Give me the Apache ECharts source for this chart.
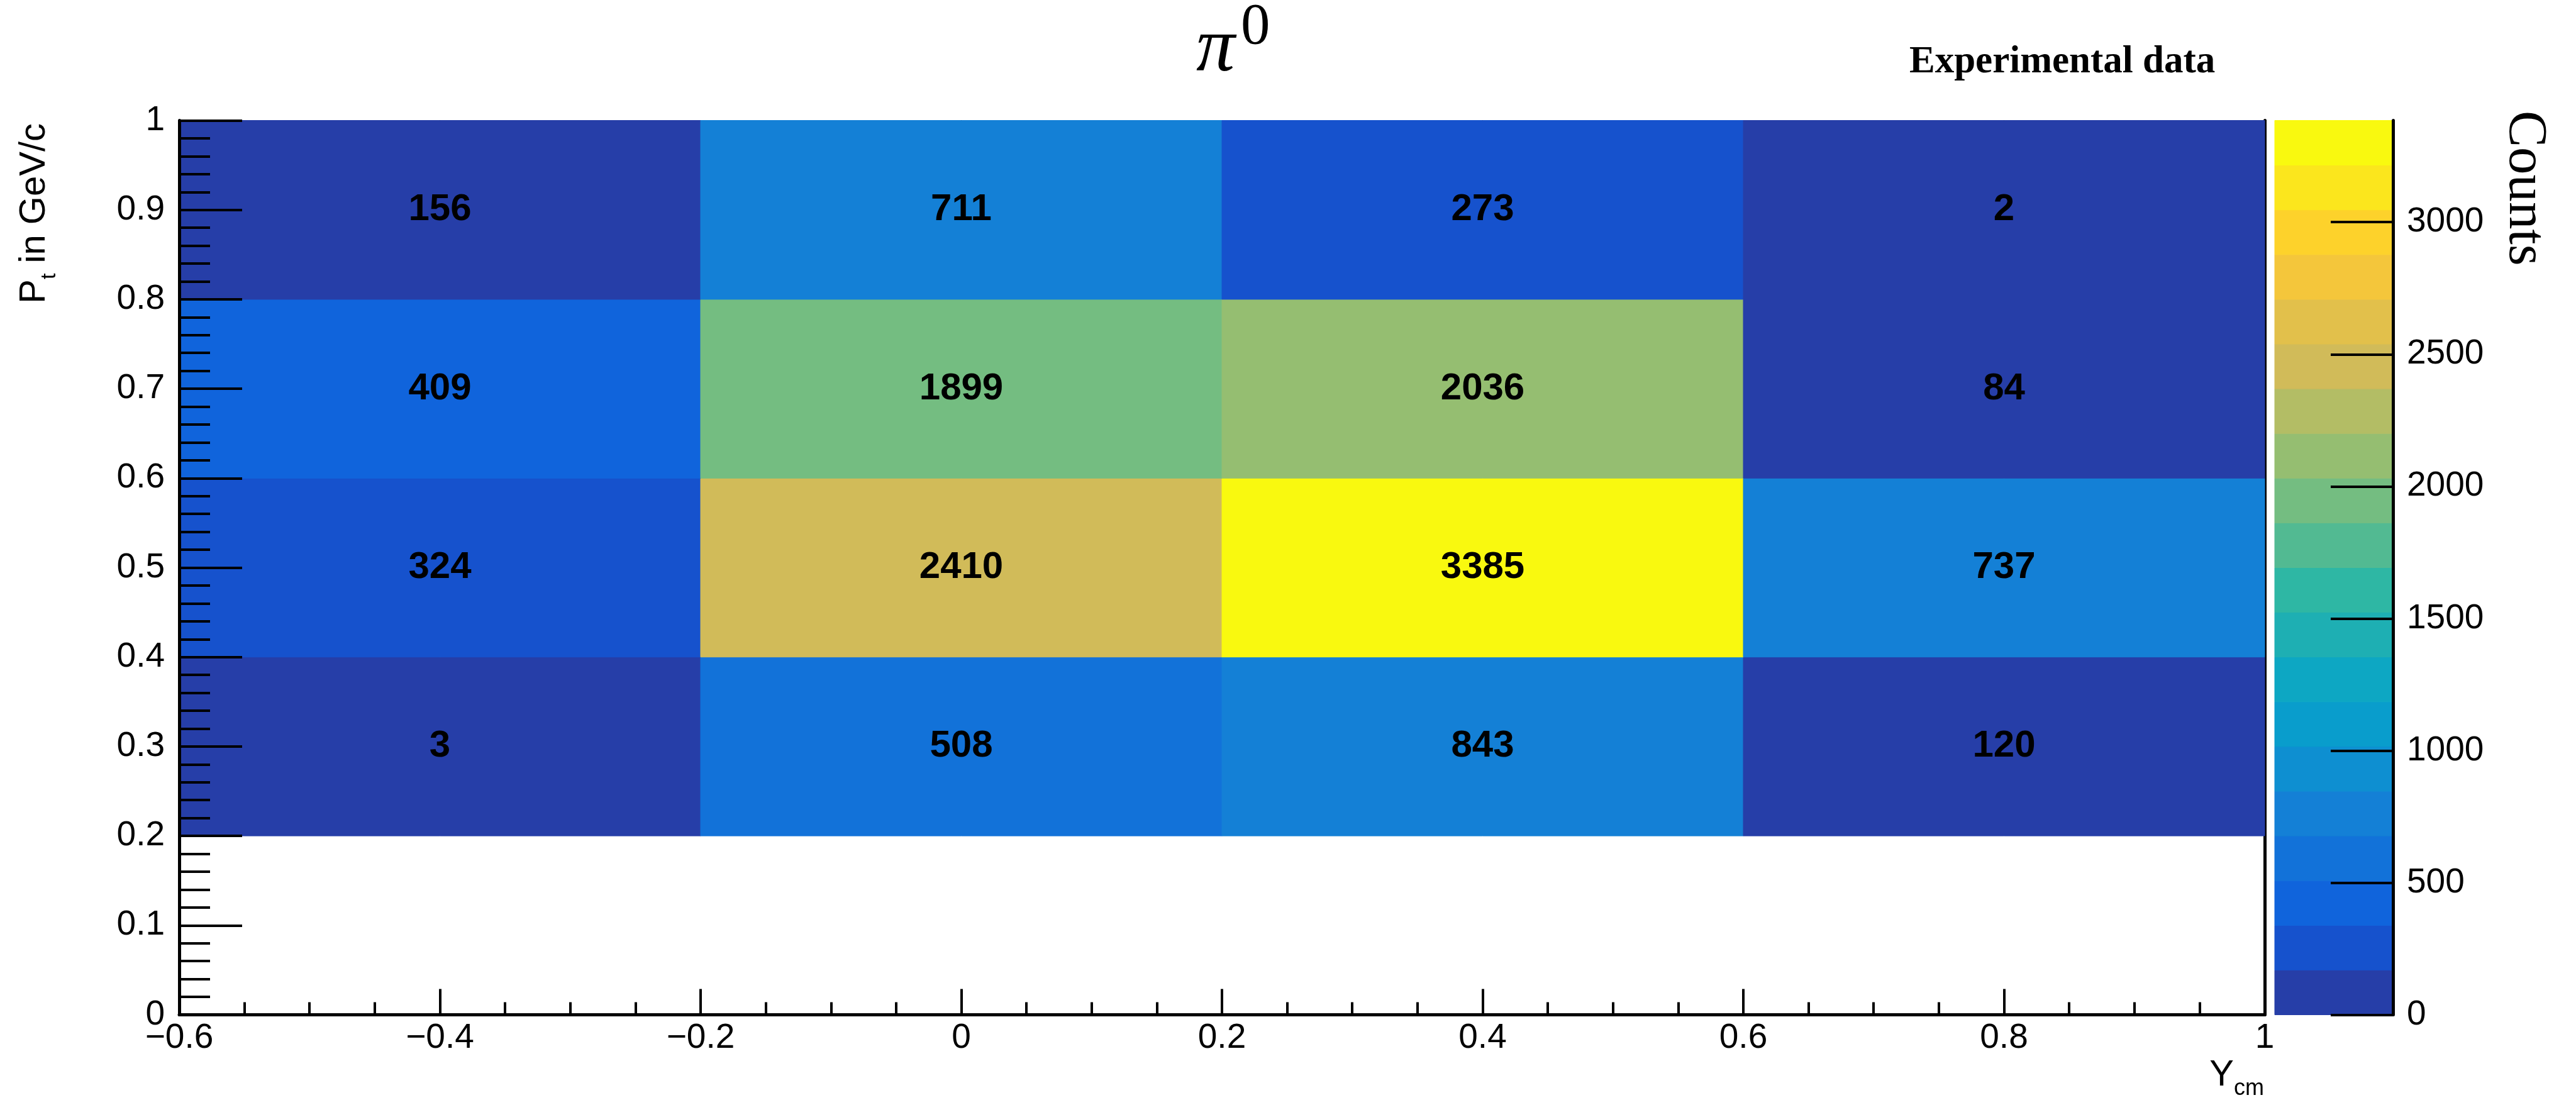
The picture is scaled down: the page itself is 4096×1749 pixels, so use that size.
<!DOCTYPE html>
<html>
<head>
<meta charset="utf-8">
<script src="https://cdn.jsdelivr.net/npm/echarts@6/dist/echarts.min.js"></script>
<style>
html,body{margin:0;padding:0;background:#fff;}
#chart{width:4096px;height:1749px;}
</style>
</head>
<body>
<div id="chart"></div>
<script>
// ---- data ----
const xEdges = [-0.6, -0.2, 0.2, 0.6, 1.0];      // Y_cm bin edges
const yEdges = [0.2, 0.4, 0.6, 0.8, 1.0];        // Pt bin edges
// counts[row][col], row 0 = lowest Pt bin (0.2-0.4)
const countsRow0 = [3, 508, 843, 120];
const countsRow1 = [324, 2410, 3385, 737];
const countsRow2 = [409, 1899, 2036, 84];
const countsRow3 = [156, 711, 273, 2];
const counts = [countsRow0, countsRow1, countsRow2, countsRow3];
const zMax = 3385;
const zTicks = [0, 500, 1000, 1500, 2000, 2500, 3000];
const nLevels = 20;
// ROOT kBird palette, 20 contour levels
const levelColors = ['#263EA8','#1652CD','#1064DC','#1272D9','#1480D6','#0E8FD1','#099DCC','#0DA7C3','#1EAFB3','#2EB7A4',
                     '#52BA92','#74BD81','#95BE71','#B3BD65','#D1BB59','#E2C04B','#F4C63B','#FDD22B','#FBE61D','#F9F90F'];

function colorFor(v) {
  let k = Math.floor(v * nLevels / zMax);
  if (k > nLevels - 1) k = nLevels - 1;
  if (k < 0) k = 0;
  return levelColors[k];
}

const cellData = [];
for (let r = 0; r < counts.length; r++) {
  for (let c = 0; c < counts[r].length; c++) {
    cellData.push([xEdges[c], xEdges[c + 1], yEdges[r], yEdges[r + 1], counts[r][c]]);
  }
}
const bandData = [];
for (let k = 0; k < nLevels; k++) {
  bandData.push([k * zMax / nLevels, (k + 1) * zMax / nLevels, k]);
}

const SANS = 'Liberation Sans';
const SERIF = 'Liberation Serif';

function fmtNum(v) {
  const r = Math.round(v * 10) / 10;
  return String(r).replace('-', '\u2212');
}

const chart = echarts.init(document.getElementById('chart'), null, {renderer: 'canvas'});

const option = {
  backgroundColor: '#ffffff',
  animation: false,
  grid: [
    {left: 285, right: 495, top: 191.5, bottom: 135.5, outerBoundsMode: 'none', containLabel: false},
    {left: 3617, right: 291, top: 191.5, bottom: 135.5, outerBoundsMode: 'none', containLabel: false}
  ],
  xAxis: [
    {
      gridIndex: 0, type: 'value', min: -0.6, max: 1, interval: 0.2, position: 'bottom', z: 10,
      axisLine: {show: true, onZero: false, lineStyle: {color: '#000', width: 5}},
      axisTick: {show: true, inside: true, length: 41, lineStyle: {color: '#000', width: 4}},
      minorTick: {show: true, splitNumber: 4, length: 20, lineStyle: {color: '#000', width: 4}},
      splitLine: {show: false}, minorSplitLine: {show: false},
      axisLabel: {show: true, margin: 10, color: '#000', fontSize: 55, fontFamily: SANS,
                  showMinLabel: true, showMaxLabel: true, formatter: fmtNum}
    },
    {
      gridIndex: 0, type: 'value', min: -0.6, max: 1, position: 'top', z: 0,
      axisLine: {show: true, onZero: false, lineStyle: {color: '#000', width: 2}},
      axisTick: {show: false}, axisLabel: {show: false}, splitLine: {show: false}
    },
    {
      gridIndex: 1, type: 'value', min: 0, max: 1, show: false,
      axisLine: {show: false}, axisTick: {show: false}, axisLabel: {show: false}, splitLine: {show: false}
    }
  ],
  yAxis: [
    {
      gridIndex: 0, type: 'value', min: 0, max: 1, interval: 0.1, position: 'left', z: 10,
      axisLine: {show: true, onZero: false, lineStyle: {color: '#000', width: 5}},
      axisTick: {show: true, inside: true, length: 100, lineStyle: {color: '#000', width: 4}},
      minorTick: {show: true, splitNumber: 5, length: 49, lineStyle: {color: '#000', width: 4}},
      splitLine: {show: false}, minorSplitLine: {show: false},
      axisLabel: {show: true, margin: 23, color: '#000', fontSize: 55, fontFamily: SANS,
                  showMinLabel: true, showMaxLabel: true, formatter: fmtNum}
    },
    {
      gridIndex: 0, type: 'value', min: 0, max: 1, position: 'right', z: 0,
      axisLine: {show: true, onZero: false, lineStyle: {color: '#000', width: 5}},
      axisTick: {show: false}, axisLabel: {show: false}, splitLine: {show: false}
    },
    {
      gridIndex: 1, type: 'value', min: 0, max: zMax, position: 'right', z: 10,
      axisLine: {show: true, onZero: false, lineStyle: {color: '#000', width: 5}},
      axisTick: {show: true, inside: true, length: 99, customValues: zTicks, lineStyle: {color: '#000', width: 4}},
      splitLine: {show: false},
      axisLabel: {show: true, margin: 22, color: '#000', fontSize: 55, fontFamily: SANS,
                  customValues: zTicks, formatter: v => String(v)}
    }
  ],
  series: [
    {
      type: 'custom',
      xAxisIndex: 0, yAxisIndex: 0,
      z: 2,
      encode: {x: [0, 1], y: [2, 3]},
      data: cellData,
      renderItem: function (params, api) {
        const p0 = api.coord([api.value(0), api.value(3)]);
        const p1 = api.coord([api.value(1), api.value(2)]);
        const v = api.value(4);
        const col = colorFor(v);
        return {
          type: 'group',
          children: [
            {type: 'rect', shape: {x: p0[0], y: p0[1], width: p1[0] - p0[0], height: p1[1] - p0[1]},
             style: {fill: col, stroke: col, lineWidth: 1}},
            {type: 'text', x: (p0[0] + p1[0]) / 2, y: (p0[1] + p1[1]) / 2,
             style: {text: String(v), fill: '#000', fontSize: 60, fontWeight: 'bold', fontFamily: SANS,
                     align: 'center', verticalAlign: 'middle'}}
          ]
        };
      }
    },
    {
      type: 'custom',
      xAxisIndex: 2, yAxisIndex: 2,
      z: 2,
      encode: {y: [0, 1]},
      data: bandData,
      renderItem: function (params, api) {
        const p0 = api.coord([0, api.value(1)]);
        const p1 = api.coord([1, api.value(0)]);
        const col = levelColors[api.value(2)];
        return {type: 'rect', shape: {x: p0[0], y: p0[1], width: p1[0] - p0[0], height: p1[1] - p0[1]},
                style: {fill: col, stroke: col, lineWidth: 1}};
      }
    }
  ],
  graphic: [
    {type: 'text', x: 1902, y: 80, z: 20,
     style: {text: '\u03C0', fill: '#000', fontSize: 123, fontStyle: 'italic', fontFamily: SERIF, align: 'left', verticalAlign: 'middle'}},
    {type: 'text', x: 1973, y: 45, z: 20,
     style: {text: '0', fill: '#000', fontSize: 93, fontFamily: SERIF, align: 'left', verticalAlign: 'middle'}},
    {type: 'text', x: 3036, y: 99, z: 20,
     style: {text: 'Experimental data', fill: '#000', fontSize: 61, fontWeight: 'bold', fontFamily: SERIF, align: 'left', verticalAlign: 'middle'}},
    {type: 'text', x: 4014, y: 176, z: 20, rotation: -Math.PI / 2,
     style: {text: 'Counts', fill: '#000', fontSize: 87, fontFamily: SERIF, align: 'left', verticalAlign: 'middle'}},
    {type: 'text', x: 55, y: 196, z: 20, rotation: Math.PI / 2,
     style: {text: '{m|P}{s|t}{m| in GeV/c}', align: 'right', verticalAlign: 'middle',
             rich: {m: {fontSize: 58, fontFamily: SANS, fill: '#000'},
                    s: {fontSize: 34, fontFamily: SANS, fill: '#000', padding: [48, 0, 0, 0]}}}},
    {type: 'text', x: 3600, y: 1710, z: 20,
     style: {text: '{m|Y}{s|cm}', align: 'right', verticalAlign: 'middle',
             rich: {m: {fontSize: 58, fontFamily: SANS, fill: '#000'},
                    s: {fontSize: 36, fontFamily: SANS, fill: '#000', padding: [43, 0, 0, 0]}}}}
  ]
};
chart.setOption(option);
</script>
</body>
</html>
